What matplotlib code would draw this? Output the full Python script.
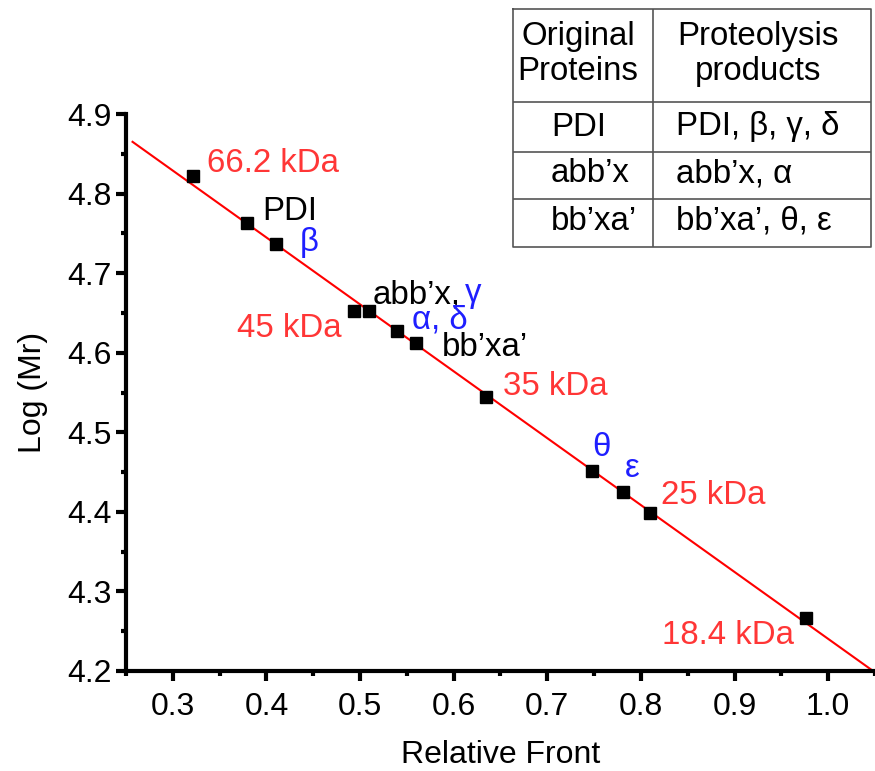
import numpy as np
import matplotlib
matplotlib.use("Agg")
import matplotlib.pyplot as plt

plt.rcParams['font.family'] = ['Liberation Sans', 'DejaVu Sans']

# marcadores de peso molecular (padroes)
std_x = [0.322, 0.494, 0.635, 0.810, 0.976]
std_logmr = [4.822, 4.653, 4.544, 4.398, 4.267]
std_labels = ["66.2 kDa", "45 kDa", "35 kDa", "25 kDa", "18.4 kDa"]

# bandas das proteinas
prot_x = [0.379, 0.410, 0.510, 0.539, 0.560, 0.748, 0.781]
prot_logmr = [4.763, 4.736, 4.652, 4.627, 4.612, 4.451, 4.425]

# faixa da reta ajustada
fit_range = [0.257, 1.05]

# tabela
table_header = ["Original\nProteins", "Proteolysis\nproducts"]
table_rows = [["PDI", "PDI, β, γ, δ"],
              ["abb’x", "abb’x, α"],
              ["bb’xa’", "bb’xa’, θ, ε"]]

red_txt = '#ff3636'
blue_txt = '#1f1fff'
fs = 23.8   # anotacoes e tabela
fs_tick = 23

fig = plt.figure(figsize=(8.75, 7.71), dpi=100)
ax = fig.add_axes([126/875, 1-671/771, 749/875, (671-114)/771])

# reta de calibracao
a, b = np.polyfit(std_x, std_logmr, 1)
xf = np.array(fit_range)
ax.plot(xf, a*xf + b, color='red', lw=1.5, zorder=2)

ax.plot(std_x, std_logmr, 's', color='black', ms=8, zorder=3)
ax.plot(prot_x, prot_logmr, 's', color='black', ms=8, zorder=3)

# rotulos dos padroes
ax.text(0.337, 4.838, std_labels[0], color=red_txt, fontsize=fs, va='center', ha='left')
ax.text(0.480, 4.630, std_labels[1], color=red_txt, fontsize=fs, va='center', ha='right')
ax.text(0.653, 4.557, std_labels[2], color=red_txt, fontsize=fs, va='center', ha='left')
ax.text(0.821, 4.420, std_labels[3], color=red_txt, fontsize=fs, va='center', ha='left')
ax.text(0.964, 4.245, std_labels[4], color=red_txt, fontsize=fs, va='center', ha='right')

# rotulos das proteinas
ax.text(0.395, 4.778, "PDI", color='black', fontsize=fs, va='center')
ax.text(0.436, 4.739, "β", color=blue_txt, fontsize=fs, va='center')
t_abb = ax.text(0.513, 4.672, "abb’x,", color='black', fontsize=fs, va='center')
ax.annotate("γ", xy=(1, 0.55), xycoords=t_abb, xytext=(3, 0), textcoords='offset points',
            color=blue_txt, fontsize=fs, va='center', ha='left')
ax.text(0.556, 4.641, "α, δ", color=blue_txt, fontsize=fs, va='center')
ax.text(0.587, 4.606, "bb’xa’", color='black', fontsize=fs, va='center')
ax.text(0.748, 4.481, "θ", color=blue_txt, fontsize=fs, va='center')
ax.text(0.783, 4.455, "ε", color=blue_txt, fontsize=fs, va='center')

ax.set_xlim(0.25, 1.05)
ax.set_ylim(4.2, 4.9)
ax.set_xticks([0.3, 0.4, 0.5, 0.6, 0.7, 0.8, 0.9, 1.0])
ax.set_xticks(np.arange(0.25, 1.051, 0.05), minor=True)
ax.set_yticks([4.2, 4.3, 4.4, 4.5, 4.6, 4.7, 4.8, 4.9])
ax.set_yticks(np.arange(4.2, 4.91, 0.05), minor=True)
ax.xaxis.set_major_formatter(plt.FormatStrFormatter('%.1f'))
ax.yaxis.set_major_formatter(plt.FormatStrFormatter('%.1f'))
ax.tick_params(which='major', length=7, width=3, labelsize=fs_tick)
ax.tick_params(which='minor', length=3.5, width=3)
ax.tick_params(axis='x', pad=8)
ax.tick_params(axis='y', pad=3)
for s in ['top', 'right']:
    ax.spines[s].set_visible(False)
for s in ['left', 'bottom']:
    ax.spines[s].set_linewidth(3)
ax.set_xlabel("Relative Front", fontsize=fs_tick, labelpad=13)
ax.set_ylabel("Log (Mr)", fontsize=fs_tick, labelpad=14)

# tabela no canto superior direito
tx = fig.add_axes([513/875, 1-247/771, (871-513)/875, (247-9)/771])
tx.set_xlim(513, 871)
tx.set_ylim(247, 9)
tx.axis('off')
lc = '#555555'
tx.plot([513, 871, 871, 513, 513], [9, 9, 247, 247, 9], color=lc, lw=1.2, clip_on=False)
tx.plot([653, 653], [9, 247], color=lc, lw=1.2)
for yl in [102, 152, 199]:
    tx.plot([513, 871], [yl, yl], color=lc, lw=1.2)
tx.text(578, 54, table_header[0], fontsize=fs, ha='center', va='center', linespacing=1.15)
tx.text(758, 54, table_header[1], fontsize=fs, ha='center', va='center', linespacing=1.15)
for i, row in enumerate(table_rows):
    yc = [127, 174, 221][i]
    tx.text(551, yc, row[0], fontsize=fs, ha='left', va='center')
    tx.text(676, yc, row[1], fontsize=fs, ha='left', va='center')

fig.savefig("out.png", dpi=100)
